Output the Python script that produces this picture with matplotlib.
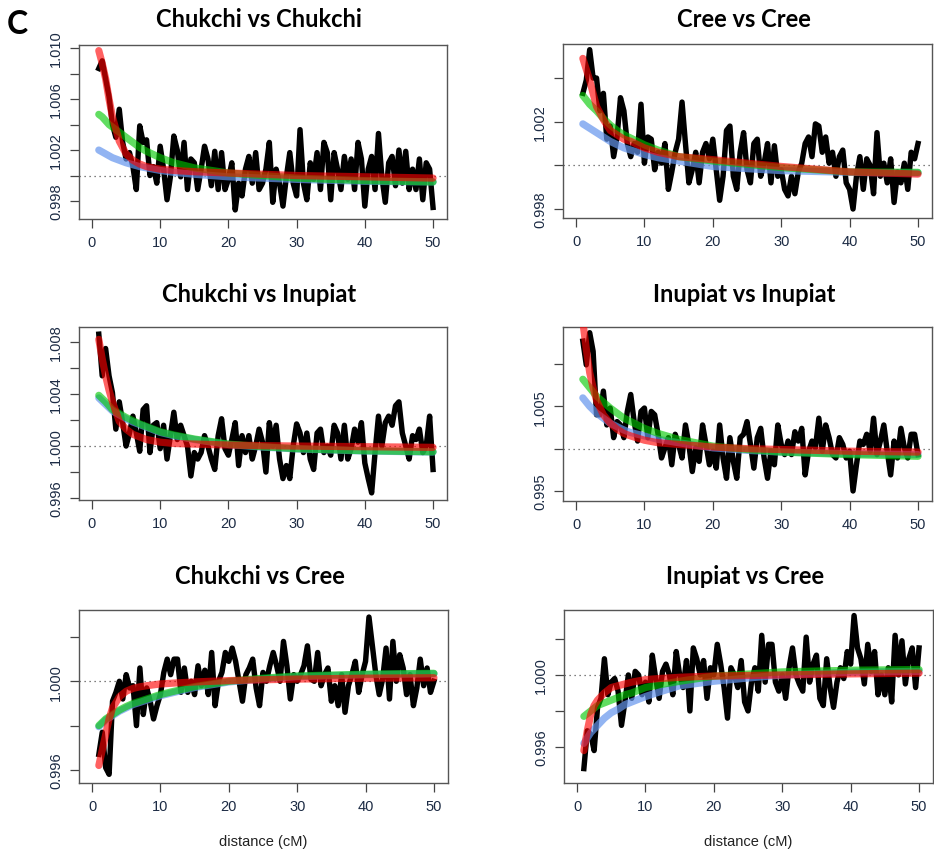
import matplotlib.pyplot as plt
import numpy as np

plt.rcParams['font.family'] = ['Liberation Sans', 'DejaVu Sans']

# distance grid of the observed curves (cM)
dist = np.arange(1, 50.5, 0.5)
# distances at which the fitted curves were read
fit_dist = [1, 1.5, 2, 2.5, 3, 4, 5, 6, 7, 8, 10, 12, 15, 20, 25, 30, 40, 50]

titles = ["Chukchi vs Chukchi", "Cree vs Cree",
          "Chukchi vs Inupiat", "Inupiat vs Inupiat",
          "Chukchi vs Cree", "Inupiat vs Cree"]

# all series below are (ratio - 1) * 1e4
obs_chu_chu = [84, 90, 76, 62, 40, 30, 52, 26, 13, 18,
               7, -11, 39, 26, 28, 0, 7, -6, 23, 5,
               -19, -1, 31, 20, -1, 26, -11, 13, 10, -11,
               5, 23, 13, -8, 19, -11, 18, -11, -3, 10,
               -27, -6, -16, 5, 15, -6, 18, -11, -6, 5,
               26, -21, 5, -6, -24, -1, 18, -6, -16, 36,
               -6, -19, 10, -3, 18, -11, 26, 18, -19, 18,
               5, -11, 15, -3, 13, -11, 26, 13, -24, 5,
               15, -11, 33, -1, -21, 10, 15, -8, 20, -6,
               19, -11, 5, -11, 13, -19, 10, 5, -25]
obs_cre_cre = [33, 39, 53, 40, 40, 25, 33, 12, 18, 4,
               13, 31, 25, 10, 4, 10, 6, 28, 1, 13,
               12, -2, 6, 1, 10, -11, -3, 6, 12, 29,
               10, -8, -2, 6, -8, 6, 10, 3, 12, -2,
               -16, -5, 16, 18, -5, -11, 6, 15, -2, -8,
               10, 12, -5, 1, 10, -8, 9, -5, -2, -11,
               -14, -5, -13, -3, 1, 10, 13, 4, 19, 18,
               6, 13, 1, 6, -5, 4, 7, -8, -11, -20,
               -5, 4, -11, 3, 0, -13, 15, -5, 1, -8,
               3, -17, -3, -8, 1, -11, 6, 3, 10]
obs_chu_inu = [86, 54, 75, 54, 41, 13, 34, 18, 0, 10,
               23, 10, -4, 28, 31, -5, 16, 18, -2, 16,
               -10, 8, 26, 5, 16, 8, 0, -23, -5, -10,
               -5, 8, 0, -10, -18, 8, 21, -2, -7, 5,
               18, -15, 8, -5, 8, -10, 0, 13, 3, -20,
               18, 0, 16, -10, -25, -15, -25, 0, 17, 10,
               -5, 10, -10, -18, 10, 13, -5, 0, -7, 16,
               10, -10, 16, -10, -2, 13, 3, 18, -13, -25,
               -36, -5, 23, 0, 18, 23, 16, 31, 34, 10,
               0, -10, 8, 5, 13, -5, 0, 23, -18]
obs_inu_inu = [127, 99, 137, 115, 40, 40, 68, 28, 48, 13,
               32, 28, 13, 44, 64, 32, 9, 44, 48, 13,
               44, 40, 17, -11, 1, 13, -19, 17, 5, -11,
               28, 5, -27, 1, -15, 28, 5, -19, -3, -23,
               28, -11, -35, 13, -15, -35, 13, 17, 32, 5,
               -23, 13, 24, -11, -35, -3, -19, 28, 5, -7,
               9, -7, 20, 9, 24, -31, -3, 9, 1, 36,
               -3, 28, 13, -7, -11, 13, 5, -11, -3, -50,
               -19, 9, 5, 17, -3, 36, -7, 9, 28, -3,
               -31, 9, -11, 24, 1, -11, 17, 17, -7]
obs_chu_cre = [-33, -23, -39, -42, -9, -5, 0, -8, 3, -3,
               -2, -20, 6, -15, -3, -9, -17, -11, -6, 4,
               10, 3, 10, 10, -5, 6, -5, 0, -6, 7,
               -2, 5, -6, 13, -11, 0, 4, 13, 9, 15,
               9, 0, -9, 3, 6, 10, -3, -11, 4, 0,
               7, 13, 7, 0, 18, 7, -8, 3, 0, 3,
               7, 16, 1, 0, 13, -2, 3, 6, -9, -2,
               -11, 3, -14, -2, 3, 9, -5, 3, 9, 29,
               16, 3, -6, 1, 15, -8, 18, 0, 12, 6,
               -6, 3, -11, -3, 10, -2, 6, -5, 0]
obs_inu_cre = [-52, -31, -33, -42, -18, -13, 9, -11, -4, -2,
               -9, -28, -15, 0, -13, 2, 0, -11, -4, -15,
               11, -2, -13, 2, 6, 0, -11, 13, 0, -7,
               8, -20, 15, 9, 0, 8, -13, 4, 0, 17,
               6, -7, -24, 4, 0, -7, 8, -15, -20, -4,
               4, -9, 22, -4, 17, 17, -4, -9, 0, -13,
               4, 15, 0, -5, -9, 21, -4, 6, 11, -13,
               -17, 9, -7, -18, -4, 4, -2, 13, 6, 33,
               15, 9, -5, 17, 2, 13, -11, 0, -11, 4,
               -15, 22, 0, 19, -5, 9, 15, -7, 15]

# fitted curves: blue, green, red
fit_blue = [
    [20, 18.5, 17, 15.5, 14, 12, 10, 8.5, 7, 6, 4, 2.5, 1, -1, -2, -3, -4.5, -5],
    [19, 18, 17, 16, 15, 13, 11, 9.5, 8, 7, 5, 3.5, 2, -0.5, -1.5, -2.4, -3.2, -3.5],
    [37, 34.5, 32, 29.5, 27, 24, 21, 18.5, 16.5, 14.5, 10.5, 8, 5, 1.2, -0.8, -2.2, -3.8, -4.6],
    [60, 55, 50, 46, 42, 36, 30, 26, 22, 19, 15, 11, 7, 1, -2, -4, -6, -7],
    [-20.5, -19, -17.5, -16.5, -15.5, -13.5, -12, -10.5, -9.5, -8.5, -6.5, -5, -2.8, -0.3, 1.1, 2.1, 3.0, 3.4],
    [-38, -35, -32, -30, -28, -24, -21, -19, -16.5, -15, -12, -9.5, -6, -3.5, -1.7, 0, 1.5, 2],
]
fit_green = [
    [48, 46, 43, 40, 38, 34, 30, 26, 22, 19, 14, 10, 6, 2, 0, -2, -4, -5],
    [32, 30, 28, 26.5, 25, 21.5, 18.5, 16, 14, 12.5, 9.4, 7, 4, 2, 0.5, -1, -3, -3.2],
    [39, 36.5, 34, 31, 28, 25, 22, 19.5, 17, 15, 11, 8.5, 5.4, 1.5, -0.5, -2, -3.6, -4.4],
    [82, 77, 72, 67, 62, 55, 48, 42, 36, 32, 24, 18, 11, 3, -1, -4, -7, -9],
    [-20, -18.5, -17, -16, -15, -13, -11.4, -10, -9, -8, -6, -4.5, -2.4, 0, 1.4, 2.4, 3.2, 3.6],
    [-23, -21.5, -20, -18.5, -17, -15.5, -14, -12.5, -11, -10, -7, -5.5, -3.5, -0.7, 0.5, 1.7, 2.6, 3],
]
fit_red = [
    [98, 88, 76, 60, 46, 27, 17, 12, 9, 7, 5, 4, 3, 2, 1, 0, -1, -2],
    [49, 44, 39, 33, 27, 21, 16, 14, 12, 11, 8, 6, 4, 2.6, 1, -0.5, -3, -4],
    [82, 67, 54, 43, 34, 19, 13, 9, 7, 5, 3, 2, 1.5, 0.8, 0.3, 0, -0.5, -1],
    [150, 118, 90, 72, 57, 40, 30, 23, 18, 15, 10, 7, 5, 2, 0, -1, -3, -4],
    [-38, -31, -24, -17, -12, -7, -4.5, -3.2, -2.5, -2, -1.2, -0.8, -0.3, 0.3, 0.7, 1, 1.4, 1.6],
    [-42, -31, -22, -17, -14, -10, -7, -6, -5, -4, -2.6, -2, -1.3, -0.6, -0.3, 0, 0.6, 1],
]

observed = [obs_chu_chu, obs_cre_cre, obs_chu_inu, obs_inu_inu, obs_chu_cre, obs_inu_cre]

# y ticks and which of them R printed
yticks = [
    [0.998, 1.000, 1.002, 1.004, 1.006, 1.008, 1.010],
    [0.998, 1.000, 1.002, 1.004],
    [0.996, 0.998, 1.000, 1.002, 1.004, 1.006, 1.008],
    [0.995, 1.000, 1.005, 1.010],
    [0.996, 0.998, 1.000, 1.002],
    [0.996, 0.998, 1.000, 1.002],
]
ylabels = [
    ["0.998", "", "1.002", "", "1.006", "", "1.010"],
    ["0.998", "", "1.002", ""],
    ["0.996", "", "1.000", "", "1.004", "", "1.008"],
    ["0.995", "", "1.005", ""],
    ["0.996", "", "1.000", ""],
    ["0.996", "", "1.000", ""],
]
ylims = [(0.99659, 1.01024), (0.99759, 1.00556), (0.99585, 1.00915),
         (0.99382, 1.01437), (0.99541, 1.00322), (0.9940, 1.00361)]

boxes = [
    [0.0846, 0.7424, 0.394, 0.2037],
    [0.6028, 0.7436, 0.3951, 0.2037],
    [0.0846, 0.4133, 0.394, 0.2026],
    [0.6028, 0.4122, 0.3951, 0.2037],
    [0.0846, 0.0820, 0.395, 0.2026],
    [0.6039, 0.0820, 0.3951, 0.2026],
]
title_y = [0.9766, 0.9766, 0.6546, 0.6546, 0.3244, 0.3244]

tick_col = "#1c2b44"

fig = plt.figure(figsize=(9.34, 8.54), dpi=100)

for i in range(6):
    ax = fig.add_axes(boxes[i])
    scale = 1e-4

    ax.axhline(1.0, color="#555555", lw=0.9, ls=(0, (1, 3)), zorder=1)
    ax.plot(dist, 1 + np.array(observed[i]) * scale, color="black", lw=3.9,
            solid_joinstyle="round", zorder=2)
    ax.plot(fit_dist, 1 + np.array(fit_blue[i]) * scale, color="#6495ed",
            lw=5.2, alpha=0.7, solid_capstyle="round", zorder=3)
    ax.plot(fit_dist, 1 + np.array(fit_green[i]) * scale, color="#00c800",
            lw=5.2, alpha=0.62, solid_capstyle="round", zorder=4)
    ax.plot(fit_dist, 1 + np.array(fit_red[i]) * scale, color="#ff0000",
            lw=5.2, alpha=0.62, solid_capstyle="round", zorder=5)

    ax.set_xlim(-1.9, 52.05)
    ax.set_ylim(*ylims[i])
    ax.set_xticks([0, 10, 20, 30, 40, 50])
    ax.set_yticks(yticks[i])
    ax.set_yticklabels(ylabels[i], rotation=90, va="center")
    ax.tick_params(direction="out", length=6.5, width=0.9, color="#444444",
                   labelsize=10.5, labelcolor=tick_col)
    ax.tick_params(axis="x", pad=5)
    ax.tick_params(axis="y", pad=5)
    for sp in ax.spines.values():
        sp.set_color("#555555")
        sp.set_linewidth(1.0)

    if i >= 4:
        ax.set_xlabel("distance (cM)", fontsize=10.5, color="#222222", labelpad=15)

    cx = boxes[i][0] + boxes[i][2] / 2 - 0.004
    fig.text(cx, title_y[i], titles[i], ha="center", va="center",
             fontsize=17, fontweight="bold", family=["Lato", "DejaVu Sans"])

fig.text(0.019, 0.971, "C", ha="center", va="center", fontsize=23,
         fontweight="bold", family=["Lato", "DejaVu Sans"])

plt.savefig("out.png", dpi=100)
